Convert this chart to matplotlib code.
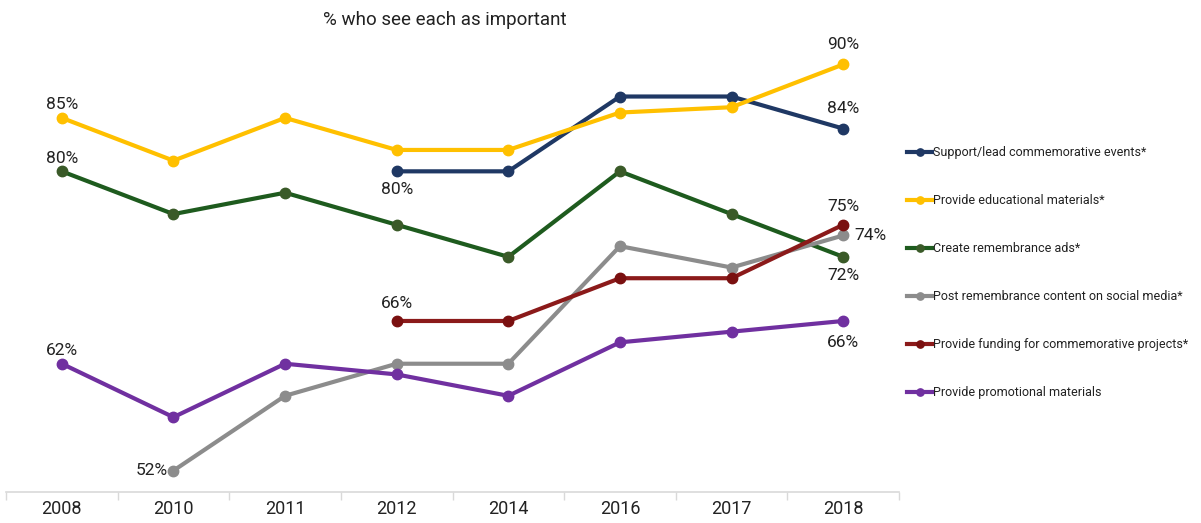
import matplotlib
matplotlib.use("Agg")
import matplotlib.pyplot as plt
import numpy as np

years = ["2008", "2010", "2011", "2012", "2014", "2016", "2017", "2018"]
N = np.nan
support_events = [N, N, N, 80, 80, 87, 87, 84]
educational = [85, 81, 85, 82, 82, 85.5, 86, 90]
remembrance_ads = [80, 76, 78, 75, 72, 80, 76, 72]
social_media = [N, 52, 59, 62, 62, 73, 71, 74]
funding = [N, N, N, 66, 66, 70, 70, 75]
promotional = [62, 57, 62, 61, 59, 64, 65, 66]

series_names = [
    "Support/lead commemorative events*",
    "Provide educational materials*",
    "Create remembrance ads*",
    "Post remembrance content on social media*",
    "Provide funding for commemorative projects*",
    "Provide promotional materials",
]
series_values = [support_events, educational, remembrance_ads, social_media, funding, promotional]
colors = ["#1F3864", "#FFC000", "#1E5B1E", "#8C8C8C", "#8B1A1A", "#7030A0"]
marker_colors = ["#1F3864", "#FFC000", "#3A5A28", "#8C8C8C", "#7A1010", "#7030A0"]

# (series index, year index, label, dx pts, dy pts, ha)
labels = [
    (1, 0, "85%", 0, 4, "center"),
    (2, 0, "80%", 0, 4, "center"),
    (5, 0, "62%", 0, 4, "center"),
    (3, 1, "52%", -4, 0, "right"),
    (0, 3, "80%", 0, -18, "center"),
    (4, 3, "66%", 0, 7, "center"),
    (1, 7, "90%", 0, 9, "center"),
    (0, 7, "84%", 0, 9, "center"),
    (4, 7, "75%", 0, 8, "center"),
    (3, 7, "74%", 8, 0, "left"),
    (2, 7, "72%", 0, -18, "center"),
    (5, 7, "66%", 0, -20, "center"),
]

plt.rcParams['font.family'] = ['Roboto', 'DejaVu Sans']

fig = plt.figure(figsize=(12.01, 5.23), dpi=100)
ax = fig.add_axes([6 / 1201, 31 / 523, 893 / 1201, 481 / 523])
x = np.arange(len(years))
handles = []
for vals, c, mc, name in zip(series_values, colors, marker_colors, series_names):
    h, = ax.plot(x, vals, color=c, lw=3, marker="o", ms=7.5, mfc=mc, mec=mc, label=name)
    handles.append(h)

for si, yi, txt, dx, dy, ha in labels:
    va = "center" if dy == 0 else ("bottom" if dy > 0 else "top")
    if dy < 0:
        dy = dy + 10
        va = "top"
    ax.annotate(txt, (x[yi], series_values[si][yi]), xytext=(dx, dy), textcoords="offset points",
                ha=ha, va=va, fontsize=12.5, color="#222222")

ax.set_xlim(-0.5, len(years) - 0.5)
ax.set_ylim(50, 95)
ax.set_yticks([])
ax.set_xticks(x)
ax.set_xticklabels(years, fontsize=13, color="#222222")
ax.set_xticks(np.arange(-0.5, len(years)), minor=True)
ax.tick_params(axis="x", which="major", length=0, pad=6)
ax.tick_params(axis="x", which="minor", length=6, color="#d9d9d9", width=1)
for s in ["top", "right", "left"]:
    ax.spines[s].set_visible(False)
ax.spines["bottom"].set_color("#d9d9d9")
ax.spines["bottom"].set_linewidth(1.2)

fig.text(445 / 1201, 1 - 20 / 523, "% who see each as important", ha="center", va="center",
         fontsize=13.5, color="#222222")

leg = fig.legend(handles=handles, loc="upper left", bbox_to_anchor=(902 / 1201, 1 - 141 / 523),
                 frameon=False, fontsize=9, handlelength=2.0, handletextpad=0.05,
                 labelspacing=2.8, borderaxespad=0, markerscale=0.7)
for t in leg.get_texts():
    t.set_color("#222222")

fig.savefig("out.png", dpi=100)
